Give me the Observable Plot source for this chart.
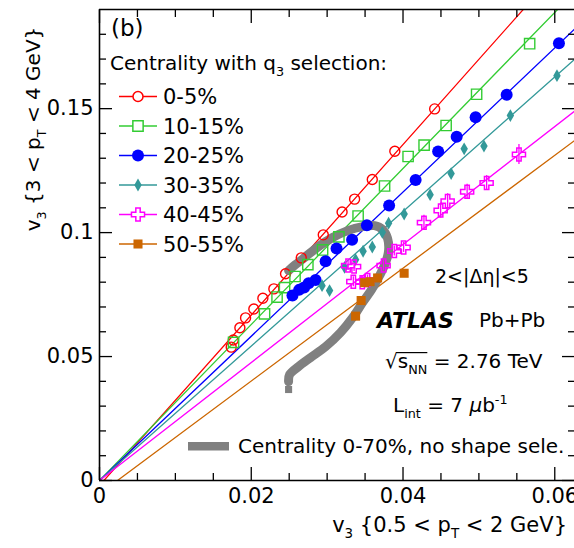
<!DOCTYPE html>
<html><head><meta charset="utf-8">
<script src="https://cdn.jsdelivr.net/npm/d3@7"></script>
<script src="https://cdn.jsdelivr.net/npm/@observablehq/plot@0.6"></script>
<style>html,body{margin:0;padding:0;background:#fff;overflow:hidden} svg text{white-space:pre}</style>
</head><body><div id="chart"></div><script>
// ---- data ----
const categories = ["0-5%", "10-15%", "20-25%", "30-35%", "40-45%", "50-55%"];
const colors = ["#ff0000", "#33cc33", "#0000ff", "#339999", "#ff00ff", "#cc6600"];

const x05 = [0.01736,0.01763,0.0185,0.01925,0.02034,0.02153,0.02298,0.02452,0.02659,0.02949,0.03197,0.03362,0.03595,0.03892,0.04417];
const y05 = [0.0538,0.0567,0.0616,0.0656,0.0692,0.0735,0.0773,0.0834,0.0898,0.0991,0.1083,0.1135,0.1214,0.1328,0.1499];

const x1015 = [0.01767,0.02175,0.0234,0.02439,0.02577,0.02746,0.0294,0.03155,0.03408,0.03757,0.04067,0.04278,0.04568,0.0497,0.05669];
const y1015 = [0.0557,0.0672,0.0740,0.0778,0.0823,0.0871,0.0930,0.0983,0.1067,0.1188,0.1307,0.1353,0.1432,0.1558,0.1762];

const x2025 = [0.02543,0.02631,0.02697,0.02756,0.02848,0.0298,0.03124,0.03329,0.03524,0.03817,0.04166,0.04463,0.04707,0.04957,0.05366,0.06055];
const y2025 = [0.0746,0.0769,0.0779,0.0796,0.0809,0.0884,0.0936,0.0971,0.1030,0.1109,0.1212,0.1327,0.1387,0.1465,0.1556,0.1764];

const x3035 = [0.02933,0.03032,0.0323,0.03375,0.03474,0.03595,0.03727,0.0381,0.04015,0.04357,0.04634,0.04806,0.05067,0.05415,0.06029];
const y3035 = [0.0786,0.0766,0.0860,0.0891,0.0925,0.0942,0.1001,0.1038,0.1075,0.1153,0.1238,0.1338,0.1349,0.1472,0.1633];

const x4045 = [0.03276,0.03355,0.03345,0.03463,0.03533,0.03744,0.03885,0.04008,0.04276,0.04496,0.04588,0.04845,0.05102,0.05528];
const y4045 = [0.0867,0.0863,0.0802,0.0800,0.0809,0.0867,0.0926,0.0940,0.1040,0.1089,0.1127,0.1165,0.1200,0.1315];
const e4045 = [0.002,0.002,0.002,0.002,0.002,0.002,0.002,0.002,0.003,0.003,0.003,0.003,0.003,0.004];

const x5055 = [0.03375,0.03448,0.03494,0.03566,0.03665,0.04015];
const y5055 = [0.0663,0.0726,0.0798,0.0802,0.0817,0.0836];

// linear fits y = a + b x
const fitSlope = [3.438, 3.147, 2.909, 2.713, 2.380, 2.276];
const fitIntercept = [-0.002, 0, 0, 0, 0, -0.0054];

// centrality 0-70%, no shape selection
const grayX = [0.02492,0.02584,0.02716,0.02887,0.03072,0.0327,0.03467,0.03626,0.03731,0.03797,0.0381,0.03771,0.03692,0.03586,0.03467,0.03336,0.03177,0.0298,0.02782,0.02624,0.02505,0.02492];
const grayY = [0.0847,0.0871,0.0903,0.0944,0.0980,0.1008,0.1024,0.1028,0.1012,0.0976,0.0927,0.0879,0.0827,0.0770,0.0718,0.0657,0.0597,0.0540,0.0496,0.0460,0.0427,0.0399];
const grayPtX = [0.02492];
const grayPtY = [0.0367];

const xTicks = [0, 0.02, 0.04, 0.06];
const xMinor = [0.005,0.01,0.015,0.025,0.03,0.035,0.045,0.05,0.055];
const yTicks = [0, 0.05, 0.1, 0.15];
const yMinor = [0.01,0.02,0.03,0.04,0.06,0.07,0.08,0.09,0.11,0.12,0.13,0.14,0.16,0.17,0.18];
const xDomain = [0, 0.0626];
const yDomain = [0, 0.19];

// ---- tables ----
const pts = (xs, ys) => xs.map((x, i) => ({x, y: ys[i]}));
const d05 = pts(x05, y05), d1015 = pts(x1015, y1015), d2025 = pts(x2025, y2025),
      d3035 = pts(x3035, y3035), d5055 = pts(x5055, y5055);
const d4045 = x4045.map((x, i) => ({x, y: y4045[i], e: e4045[i]}));
const fitLines = categories.flatMap((c, i) => {
  const a = fitIntercept[i], b = fitSlope[i];
  const x0 = Math.max(0, -a / b), x1 = xDomain[1];
  return [{c, x: x0, y: a + b * x0}, {c, x: x1, y: a + b * x1}];
});
const gray = pts(grayX, grayY);
const grayPt = pts(grayPtX, grayPtY);

const font = "'DejaVu Sans', sans-serif";
const MAJ = 13, MIN = 7;
const chart = Plot.plot({
  width: 574, height: 548,
  marginLeft: 99, marginRight: 0, marginTop: 9, marginBottom: 68,
  x: {domain: xDomain},
  y: {domain: yDomain},
  color: {domain: categories, range: colors},
  style: {fontFamily: font, fontSize: "21px", background: "#fff", color: "#000"},
  marks: [
    Plot.line(fitLines, {x: "x", y: "y", z: "c", stroke: "c", strokeWidth: 1.3, clip: true}),
    Plot.line(gray, {x: "x", y: "y", stroke: "#808080", strokeWidth: 9, curve: "catmull-rom", strokeLinejoin: "round"}),
    Plot.dot(grayPt, {x: "x", y: "y", symbol: "square", r: 4, fill: "#808080"}),
    Plot.ruleX(d4045, {x: "x", y1: d => d.y - d.e, y2: d => d.y + d.e, stroke: colors[4], strokeWidth: 1.3}),
    Plot.dot(d05, {x: "x", y: "y", symbol: "circle", r: 5, stroke: colors[0], strokeWidth: 1.4, fill: "none"}),
    Plot.dot(d1015, {x: "x", y: "y", symbol: "square", r: 5.8, stroke: colors[1], strokeWidth: 1.4, fill: "none"}),
    Plot.dot(d2025, {x: "x", y: "y", symbol: "circle", r: 6, fill: colors[2], stroke: "none"}),
    Plot.dot(d3035, {x: "x", y: "y", symbol: "diamond", r: 3.9, fill: colors[3], stroke: "none"}),
    Plot.dot(d4045, {x: "x", y: "y", symbol: "cross", r: 5.5, stroke: colors[4], strokeWidth: 1.5, fill: "none"}),
    Plot.dot(d5055, {x: "x", y: "y", symbol: "square", r: 5.1, fill: colors[5], stroke: "none"}),
    // frame (left, bottom, top)
    Plot.ruleX([xDomain[0]], {stroke: "#000", strokeWidth: 1.6}),
    Plot.ruleY([yDomain[0]], {stroke: "#000", strokeWidth: 1.6}),
    Plot.ruleY([yDomain[1]], {stroke: "#000", strokeWidth: 1.6}),
    // inward ticks (drawn outward then shifted inside)
    Plot.axisX({anchor: "bottom", ticks: xTicks, tickSize: MAJ, dy: -MAJ, fill: "none", label: null, strokeWidth: 1.3}),
    Plot.axisX({anchor: "bottom", ticks: xMinor, tickSize: MIN, dy: -MIN, fill: "none", label: null, strokeWidth: 1.3}),
    Plot.axisX({anchor: "top", ticks: xTicks, tickSize: MAJ, dy: MAJ, fill: "none", label: null, strokeWidth: 1.3}),
    Plot.axisX({anchor: "top", ticks: xMinor, tickSize: MIN, dy: MIN, fill: "none", label: null, strokeWidth: 1.3}),
    Plot.axisY({anchor: "left", ticks: yTicks, tickSize: MAJ, dx: MAJ, fill: "none", label: null, strokeWidth: 1.3}),
    Plot.axisY({anchor: "left", ticks: yMinor, tickSize: MIN, dx: MIN, fill: "none", label: null, strokeWidth: 1.3}),
    Plot.axisY({anchor: "right", ticks: yTicks, tickSize: MAJ, dx: -MAJ, fill: "none", label: null, strokeWidth: 1.3}),
    Plot.axisY({anchor: "right", ticks: yMinor, tickSize: MIN, dx: -MIN, fill: "none", label: null, strokeWidth: 1.3}),
    // tick labels
    Plot.axisX({anchor: "bottom", ticks: xTicks, tickSize: 0, tickPadding: 8, tickFormat: d => String(d), label: null, fontSize: 21}),
    Plot.axisY({anchor: "left", ticks: yTicks, tickSize: 0, tickPadding: 6, tickFormat: d => String(d), label: null, fontSize: 21})
  ]
});
document.getElementById("chart").appendChild(chart);

// ---- annotations ----
const svg = d3.select(chart);
function rich(parent, x, y, segs, size, o = {}) {
  const t = parent.append("text").attr("x", x).attr("y", y)
    .attr("font-size", size).attr("font-family", font).attr("fill", "#000")
    .attr("text-anchor", o.anchor || "start");
  if (o.weight) t.attr("font-weight", o.weight);
  if (o.style) t.attr("font-style", o.style);
  let shift = 0;
  for (const s of segs) {
    const ts = t.append("tspan").text(s.t);
    const target = s.sub ? size * 0.3 : s.sup ? -size * 0.42 : 0;
    if (target !== shift) { ts.attr("dy", target - shift); shift = target; }
    if (s.sub || s.sup) ts.attr("font-size", size * 0.64);
    if (s.italic) ts.attr("font-style", "italic");
  }
  return t;
}

rich(svg, 111, 36, [{t: "(b)"}], 23);
rich(svg, 110, 70, [{t: "Centrality with q"}, {t: "3", sub: true}, {t: " selection:"}], 20);

const legY = [96.5, 126, 155.5, 185, 214.5, 244];
const symFor = [d3.symbolCircle, d3.symbolSquare, d3.symbolCircle, d3.symbolDiamond, d3.symbolCross, d3.symbolSquare];
const rFor = [5, 5.8, 6, 3.9, 5.5, 5.1];
const filled = [false, false, true, true, false, true];
categories.forEach((c, i) => {
  const y = legY[i];
  svg.append("line").attr("x1", 119).attr("x2", 157).attr("y1", y).attr("y2", y)
    .attr("stroke", colors[i]).attr("stroke-width", 1.4);
  if (i === 4) svg.append("line").attr("x1", 138).attr("x2", 138).attr("y1", y - 6).attr("y2", y + 6)
    .attr("stroke", colors[i]).attr("stroke-width", 1.4);
  svg.append("path").attr("transform", `translate(138,${y})`)
    .attr("d", d3.symbol(symFor[i], Math.PI * rFor[i] * rFor[i])())
    .attr("fill", filled[i] ? colors[i] : "#fff")
    .attr("stroke", filled[i] ? "none" : colors[i]).attr("stroke-width", 1.5);
  rich(svg, 163, y + 7.6, [{t: c}], 21);
});

// axis titles
const gy = svg.append("g").attr("transform", "translate(40,129) rotate(-90)");
rich(gy, 0, 0, [{t: "v"}, {t: "3", sub: true}, {t: " {3 < p"}, {t: "T", sub: true}, {t: " < 4 GeV}"}], 20, {anchor: "middle"});
rich(svg, 567, 532, [{t: "v"}, {t: "3", sub: true}, {t: " {0.5 < p"}, {t: "T", sub: true}, {t: " < 2 GeV}"}], 21, {anchor: "end"});

// right-side annotations
rich(svg, 435, 283, [{t: "2<|Δη|<5"}], 19);
rich(svg, 377, 328, [{t: "ATLAS"}], 22, {weight: "bold", style: "italic"});
rich(svg, 479, 327, [{t: "Pb+Pb"}], 20);
const sq = rich(svg, 385, 368, [{t: "√"}, {t: "s"}, {t: "NN", sub: true}, {t: " = 2.76 TeV"}], 20);
{
  const tsp = sq.selectAll("tspan").nodes();
  const b0 = tsp[0].getBBox(), b2 = tsp[2].getBBox();
  svg.append("line").attr("x1", b0.x + b0.width - 1).attr("x2", b2.x + b2.width)
    .attr("y1", 368 - 15.4).attr("y2", 368 - 15.4).attr("stroke", "#000").attr("stroke-width", 1.2);
}
rich(svg, 393, 412, [{t: "L"}, {t: "int", sub: true}, {t: " = 7 "}, {t: "μ", italic: true}, {t: "b"}, {t: "-1", sup: true}], 20);

// gray legend
svg.append("rect").attr("x", 188).attr("y", 442).attr("width", 41).attr("height", 8.5).attr("fill", "#808080");
rich(svg, 238, 453, [{t: "Centrality 0-70%, no shape sele."}], 20);
</script></body></html>
